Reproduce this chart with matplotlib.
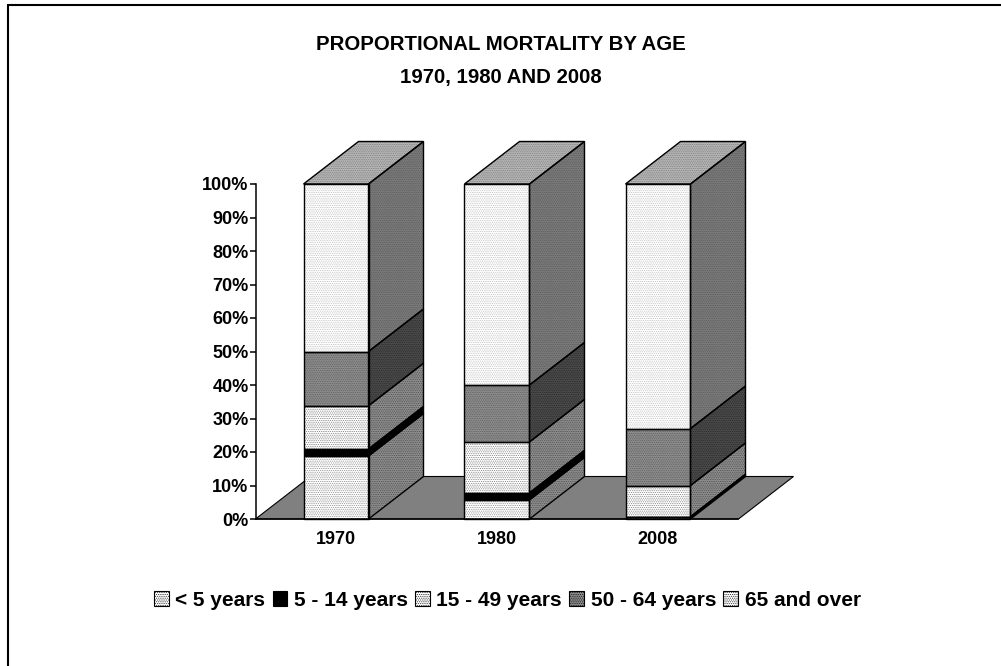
import matplotlib
matplotlib.use("Agg")
import matplotlib.pyplot as plt
from matplotlib.patches import Polygon, Patch
from matplotlib.lines import Line2D

plt.rcParams['font.family'] = ['Liberation Sans', 'DejaVu Sans']
plt.rcParams['font.weight'] = 'bold'
plt.rcParams['hatch.linewidth'] = 0.4

years = ['1970', '1980', '2008']
age_groups = ['< 5 years', '5 - 14 years', '15 - 49 years', '50 - 64 years', '65 and over']
under_5 = [18.8, 5.7, 0.5]
age_5_14 = [2.1, 2.1, 0.2]
age_15_49 = [12.9, 15.2, 9.3]
age_50_64 = [16.2, 17.0, 17.0]
age_65_plus = [50.0, 60.0, 73.0]
series = [under_5, age_5_14, age_15_49, age_50_64, age_65_plus]
y_ticks = list(range(0, 101, 10))

front = ['#ffffff', '#000000', '#ffffff', '#8c8c8c', '#ffffff']
front_h = ['#7a7a7a', '#000000', '#6a6a6a', '#555555', '#b4b4b4']
side = ['#8c8c8c', '#000000', '#8c8c8c', '#4a4a4a', '#7a7a7a']
side_h = ['#444444', '#000000', '#444444', '#222222', '#555555']
top_c, top_h = '#b4b4b4', '#777777'

W, H = 1001, 666
fig = plt.figure(figsize=(W / 100, H / 100), dpi=100, facecolor='white')
L, R, T, B = 255.5, 738.5, 184, 519
ax = fig.add_axes([L / W, 1 - B / H, (R - L) / W, (B - T) / H])
ax.set_xlim(-0.5, 2.5)
ax.set_ylim(0, 100)
for s in ['top', 'right']:
    ax.spines[s].set_visible(False)
for s in ['left', 'bottom']:
    ax.spines[s].set_linewidth(1.1)
    ax.spines[s].set_zorder(20)
ax.patch.set_alpha(0)
ax.set_xticks(range(3), years, fontsize=13)
ax.set_yticks(y_ticks, [f'{v}%' for v in y_ticks], fontsize=13)
ax.tick_params(axis='y', length=4.5, width=1.1, pad=0.5)
ax.tick_params(axis='x', length=0, pad=9)

dx = 55 / 161
dy = 42.5 / 335 * 100
hw = 32.5 / 161
EW = 1.0

ax.add_patch(Polygon([(-0.5, 0), (-0.5 + dx, dy), (2.5 + dx, dy), (2.5, 0)],
                     closed=True, fc='#808080', ec='black', lw=0.8, clip_on=False, zorder=1))

HATCH = '.' * 9
z = 2
for i in range(3):
    base = 0
    x0, x1 = i - hw, i + hw
    for k, vals in enumerate(series):
        v = vals[i]
        h = HATCH if k != 1 else None
        ax.add_patch(Polygon([(x1, base), (x1 + dx, base + dy), (x1 + dx, base + v + dy), (x1, base + v)],
                             closed=True, fc=side[k], ec=side_h[k] if h else 'black', hatch=h, lw=0, clip_on=False, zorder=z))
        ax.add_patch(Polygon([(x1, base), (x1 + dx, base + dy), (x1 + dx, base + v + dy), (x1, base + v)],
                             closed=True, fc='none', ec='black', lw=EW, clip_on=False, zorder=z + 0.5))
        ax.add_patch(Polygon([(x0, base), (x1, base), (x1, base + v), (x0, base + v)],
                             closed=True, fc=front[k], ec=front_h[k] if h else 'black', hatch=h, lw=0, clip_on=False, zorder=z))
        ax.add_patch(Polygon([(x0, base), (x1, base), (x1, base + v), (x0, base + v)],
                             closed=True, fc='none', ec='black', lw=EW, clip_on=False, zorder=z + 0.5))
        base += v
    ax.add_patch(Polygon([(x0, base), (x1, base), (x1 + dx, base + dy), (x0 + dx, base + dy)],
                         closed=True, fc=top_c, ec=top_h, hatch=HATCH, lw=0, clip_on=False, zorder=z))
    ax.add_patch(Polygon([(x0, base), (x1, base), (x1 + dx, base + dy), (x0 + dx, base + dy)],
                         closed=True, fc='none', ec='black', lw=EW, clip_on=False, zorder=z + 0.5))
    z += 1

fig.text(501 / W, 1 - 45 / H, 'PROPORTIONAL MORTALITY BY AGE', ha='center', va='center', fontsize=14.7, fontweight='bold')
fig.text(501 / W, 1 - 77 / H, '1970, 1980 AND 2008', ha='center', va='center', fontsize=14.7, fontweight='bold')

handles = [Patch(fc=front[k], ec=front_h[k] if k != 1 else 'black', hatch=HATCH if k != 1 else None, lw=0.8,
                 label=age_groups[k]) for k in range(5)]
leg = fig.legend(handles=handles, loc='center', bbox_to_anchor=(507.5 / W, 1 - 600 / H), ncol=5, frameon=False,
                 fontsize=15, handlelength=0.7, handleheight=0.7, handletextpad=0.32, columnspacing=0.35, borderpad=0)
for p in leg.get_patches():
    p.set_edgecolor('black')

fig.add_artist(Line2D([8 / W, 8 / W], [0, 1 - 5 / H], color='black', lw=1.5, solid_capstyle='butt', transform=fig.transFigure))
fig.add_artist(Line2D([7.3 / W, 1], [1 - 5 / H, 1 - 5 / H], color='black', lw=1.5, solid_capstyle='butt', transform=fig.transFigure))

fig.savefig('out.png', dpi=100, facecolor='white')
